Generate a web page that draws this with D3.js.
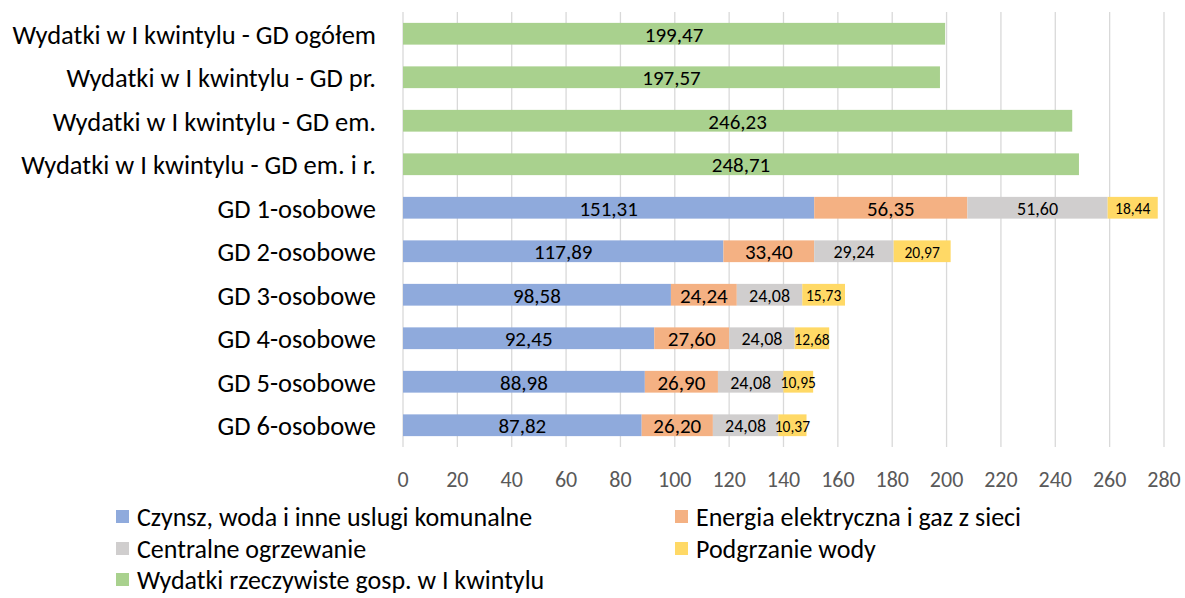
<!DOCTYPE html>
<html lang="pl">
<head>
<meta charset="UTF-8">
<title>Wydatki w I kwintylu</title>
<script src="https://cdn.jsdelivr.net/npm/d3@7/dist/d3.min.js"></script>
<style>
  body { margin: 0; background: #fff; }
  svg { font-family: Carlito, Lato, "Open Sans", sans-serif; }
  .grid line { stroke: #d9d9d9; stroke-width: 1.3; }
  .cat { font-size: 26.5px; fill: #000; }
  .tick-label { font-size: 22px; fill: #595959; }
  .legend text { font-size: 26px; fill: #000; }
</style>
</head>
<body>
<svg width="1185" height="598"></svg>
<script>
const categories = [
  "Wydatki w I kwintylu - GD ogółem",
  "Wydatki w I kwintylu - GD pr.",
  "Wydatki w I kwintylu - GD em.",
  "Wydatki w I kwintylu - GD em. i r.",
  "GD 1-osobowe",
  "GD 2-osobowe",
  "GD 3-osobowe",
  "GD 4-osobowe",
  "GD 5-osobowe",
  "GD 6-osobowe"
];
const czynsz = [0, 0, 0, 0, 151.31, 117.89, 98.58, 92.45, 88.98, 87.82];
const energia = [0, 0, 0, 0, 56.35, 33.40, 24.24, 27.60, 26.90, 26.20];
const ogrzewanie = [0, 0, 0, 0, 51.60, 29.24, 24.08, 24.08, 24.08, 24.08];
const podgrzanie = [0, 0, 0, 0, 18.44, 20.97, 15.73, 12.68, 10.95, 10.37];
const wydatki = [199.47, 197.57, 246.23, 248.71, 0, 0, 0, 0, 0, 0];
const xTicks = [0, 20, 40, 60, 80, 100, 120, 140, 160, 180, 200, 220, 240, 260, 280];

const series = [
  { key: "czynsz", name: "Czynsz, woda i inne uslugi komunalne", color: "#8faadc", values: czynsz, size: 21 },
  { key: "energia", name: "Energia elektryczna i gaz z sieci", color: "#f4b183", values: energia, size: 21 },
  { key: "ogrzewanie", name: "Centralne ogrzewanie", color: "#d0cece", values: ogrzewanie, size: 18 },
  { key: "podgrzanie", name: "Podgrzanie wody", color: "#ffd966", values: podgrzanie, size: 15.5 },
  { key: "wydatki", name: "Wydatki rzeczywiste gosp. w I kwintylu", color: "#a9d18e", values: wydatki, size: 21 }
];

const rows = categories.map((c, i) => {
  const r = { cat: c };
  series.forEach(s => r[s.key] = s.values[i]);
  return r;
});

const svg = d3.select("svg");
const plotLeft = 403, plotRight = 1164, plotTop = 12, plotBottom = 447;

const x = d3.scaleLinear().domain([0, 280]).range([plotLeft, plotRight]);
const y = d3.scaleBand().domain(categories).range([plotTop, plotBottom]).paddingInner(0.5).paddingOuter(0.25);

// gridlines
svg.append("g").attr("class", "grid")
  .selectAll("line").data(xTicks).join("line")
  .attr("x1", d => x(d)).attr("x2", d => x(d))
  .attr("y1", plotTop).attr("y2", plotBottom);

// x tick labels
svg.append("g").selectAll("text").data(xTicks).join("text")
  .attr("class", "tick-label")
  .attr("x", d => x(d)).attr("y", 479)
  .attr("text-anchor", "middle").attr("dominant-baseline", "central")
  .text(d => d);

// category labels
svg.append("g").selectAll("text").data(categories).join("text")
  .attr("class", "cat")
  .attr("x", 376).attr("y", d => y(d) + y.bandwidth() / 2 + 1)
  .attr("text-anchor", "end").attr("dominant-baseline", "central")
  .text(d => d);

const stacked = d3.stack().keys(series.map(s => s.key))(rows);
const fmt = v => d3.format(".2f")(v).replace(".", ",");

stacked.forEach((layer, li) => {
  const s = series[li];
  const g = svg.append("g");
  const segs = layer.filter(d => d[1] - d[0] > 0);
  g.selectAll("rect").data(segs).join("rect")
    .attr("x", d => x(d[0]))
    .attr("y", d => y(d.data.cat))
    .attr("width", d => x(d[1]) - x(d[0]))
    .attr("height", y.bandwidth())
    .attr("fill", s.color);
  g.selectAll("text").data(segs).join("text")
    .attr("x", d => (x(d[0]) + x(d[1])) / 2)
    .attr("y", d => y(d.data.cat) + y.bandwidth() / 2 + 1)
    .attr("text-anchor", "middle").attr("dominant-baseline", "central")
    .attr("font-size", s.size).attr("fill", "#000")
    .text(d => fmt(d[1] - d[0]));
});

// legend
const legendPos = [[116, 516], [675, 516], [116, 548], [675, 548], [116, 579]];
const lg = svg.append("g").attr("class", "legend");
series.forEach((s, i) => {
  const [lx, ly] = legendPos[i];
  lg.append("rect").attr("x", lx).attr("y", ly - 6).attr("width", 13).attr("height", 13).attr("fill", s.color);
  lg.append("text").attr("x", lx + 21).attr("y", ly + 1).attr("dominant-baseline", "central").text(s.name);
});
</script>
</body>
</html>
